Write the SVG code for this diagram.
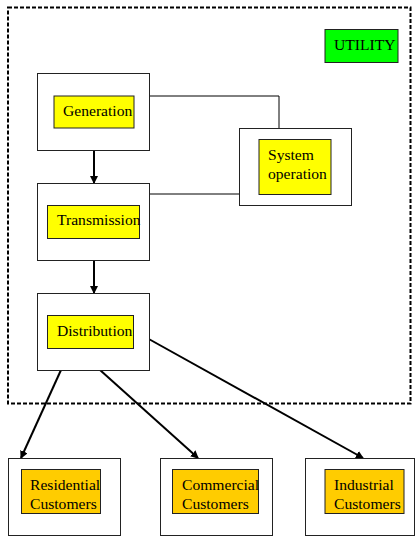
<svg xmlns="http://www.w3.org/2000/svg" width="416" height="537" viewBox="0 0 416 537">
<style>
.outer{fill:#fff;stroke:#222;stroke-width:1}
.inner{stroke:#222;stroke-width:1}
.y{fill:#ffff00}
.o{fill:#ffcc00}
.g{fill:#00ff00}
text{font-family:"Liberation Serif","Times New Roman",serif;font-size:15.6px;fill:#000}
.thin{stroke:#000;stroke-width:1;fill:none}
.thick{stroke:#000;stroke-width:2;fill:none;marker-end:url(#ah)}
</style>
<defs>
<marker id="ah" markerWidth="8" markerHeight="8" refX="7" refY="4" orient="auto" markerUnits="userSpaceOnUse">
<path d="M0,0 L8,4 L0,8 Z" fill="#000"/>
</marker>
</defs>
<rect x="8" y="7.5" width="402.5" height="396" fill="none" stroke="#000" stroke-width="2" stroke-dasharray="4,2"/>
<g id="utility"><rect class="inner g" x="325" y="29.5" width="73" height="33"/><text x="334" y="50">UTILITY</text></g>
<g id="connectors">
<polyline class="thin" points="147,96 279,96 279,128"/>
<line class="thin" x1="150" y1="194" x2="239" y2="194"/>
<line class="thick" x1="94" y1="150" x2="94" y2="183"/>
<line class="thick" x1="94" y1="260" x2="94" y2="293"/>
<line class="thick" x1="61" y1="370" x2="21" y2="458"/>
<line class="thick" x1="100" y1="370" x2="198" y2="458"/>
<line class="thick" x1="147" y1="338" x2="363" y2="458"/>
</g>
<g id="generation"><rect class="outer" x="37.5" y="73.5" width="112" height="77"/><rect class="inner y" x="54" y="96" width="80" height="32"/><text x="63" y="116">Generation</text></g>
<g id="system"><rect class="outer" x="239.5" y="128.5" width="112" height="77"/><rect class="inner y" x="259" y="139.5" width="72" height="55"/><text x="268" y="160">System</text><text x="268" y="179">operation</text></g>
<g id="transmission"><rect class="outer" x="37.5" y="183.5" width="112" height="77"/><rect class="inner y" x="47.5" y="205.5" width="92" height="33"/><text x="57" y="225">Transmission</text></g>
<g id="distribution"><rect class="outer" x="37.5" y="293.5" width="112" height="77"/><rect class="inner y" x="47.5" y="315.5" width="86" height="33"/><text x="57" y="336">Distribution</text></g>
<g id="residential"><rect class="outer" x="8.5" y="458.5" width="112" height="77"/><rect class="inner o" x="21.5" y="469.5" width="79" height="44"/><text x="30" y="490">Residential</text><text x="30" y="509">Customers</text></g>
<g id="commercial"><rect class="outer" x="160.5" y="458.5" width="112" height="77"/><rect class="inner o" x="172.5" y="469.5" width="86" height="44"/><text x="182" y="490">Commercial</text><text x="182" y="509">Customers</text></g>
<g id="industrial"><rect class="outer" x="305.5" y="458.5" width="109" height="77"/><rect class="inner o" x="325" y="469.5" width="79" height="44"/><text x="334" y="490">Industrial</text><text x="334" y="509">Customers</text></g>
</svg>
